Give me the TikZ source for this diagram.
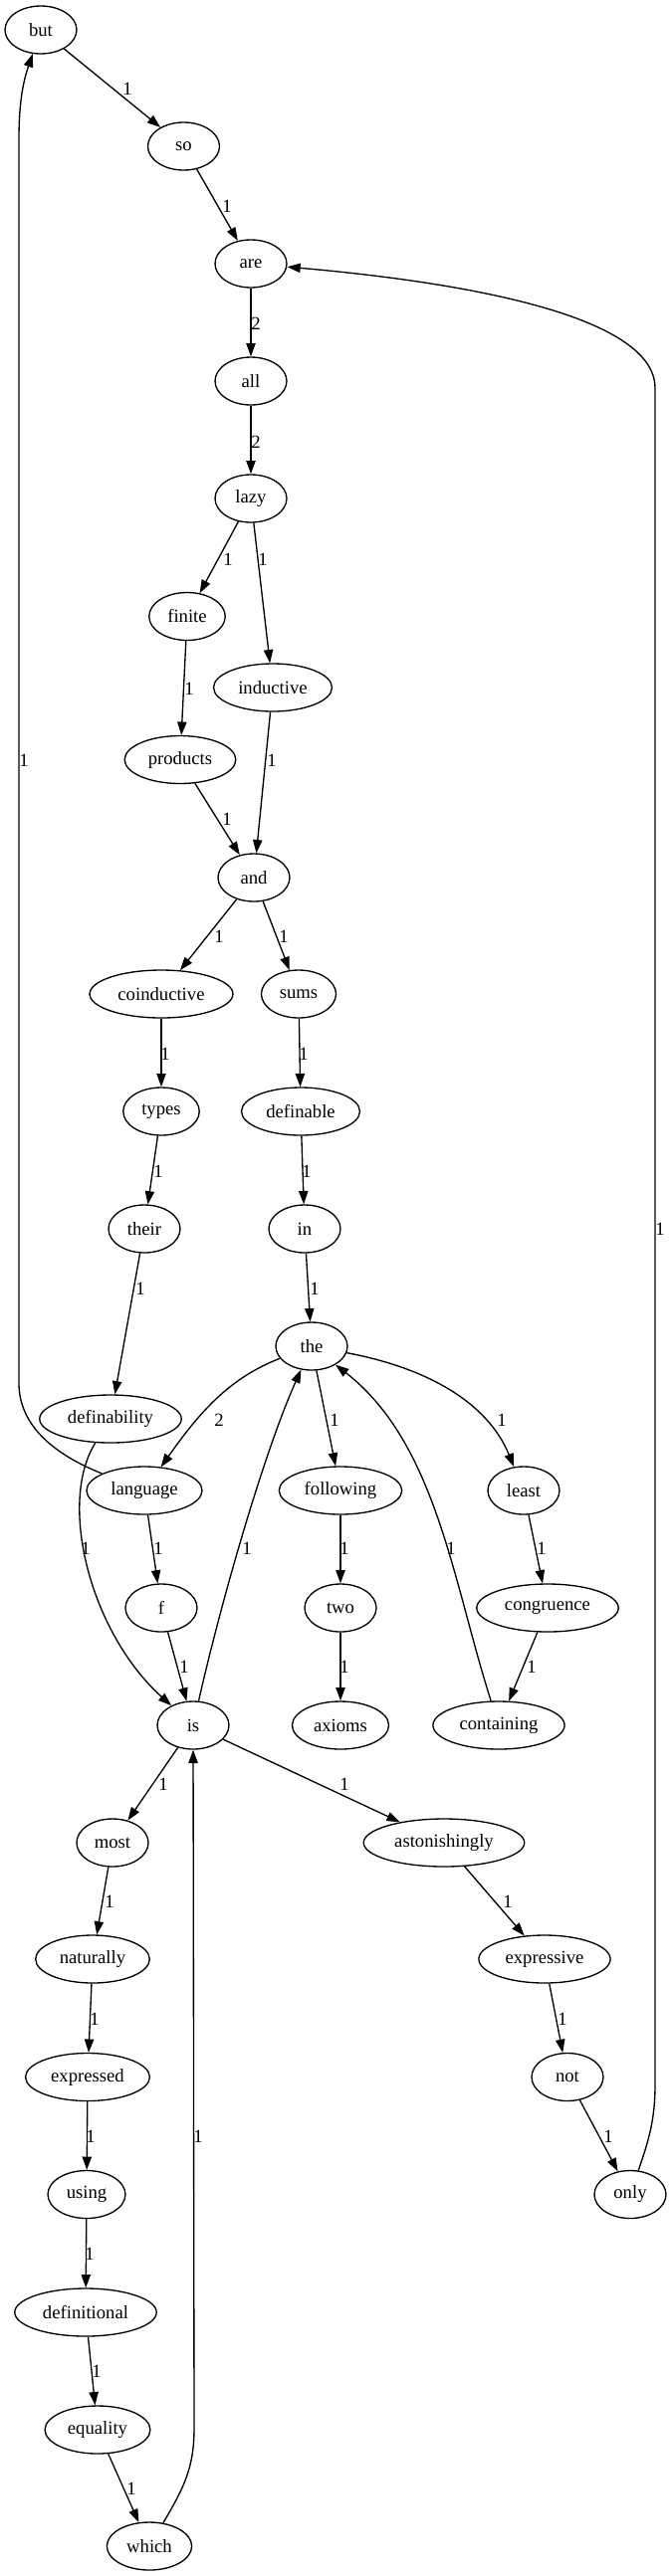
\documentclass[tikz,border=0pt]{standalone}
\usepackage{fontspec}
\setmainfont{Liberation Serif}
\usepackage{tikz}
\usetikzlibrary{arrows.meta,shapes.geometric}

\begin{document}
\begin{tikzpicture}[
  x=0.75pt, y=-0.75pt,
  font=\fontsize{14pt}{16pt}\selectfont,
  word/.style={draw, ellipse, line width=1pt, inner xsep=5.5pt, inner ysep=2pt, minimum width=54pt, minimum height=36pt},
  lab/.style={inner sep=0pt},
  arr/.style={-{Triangle[length=10pt, width=7pt]}, line width=1pt}
]
\useasboundingbox (0,0) rectangle (674,2589);
% words
\node[word] (but) at (41,30) {but};
\node[word] (so) at (184.5,147) {so};
\node[word] (are) at (252,265) {are};
\node[word] (all) at (252,383) {all};
\node[word] (lazy) at (252,501) {lazy};
\node[word] (finite) at (188,619.5) {finite};
\node[word] (inductive) at (274,691) {inductive};
\node[word] (products) at (181,763.5) {products};
\node[word] (and) at (255,882) {and};
\node[word] (coinductive) at (162,999) {coinductive};
\node[word] (sums) at (300,999) {sums};
\node[word] (types) at (162,1117) {types};
\node[word] (definable) at (302,1117) {definable};
\node[word] (their) at (145,1235) {their};
\node[word] (in) at (306,1235) {in};
\node[word] (the) at (313,1353) {the};
\node[word] (definability) at (111,1426) {definability};
\node[word] (language) at (145,1498) {language};
\node[word] (following) at (342,1498) {following};
\node[word] (least) at (526,1498) {least};
\node[word] (f) at (162,1616) {f};
\node[word] (two) at (342,1616) {two};
\node[word] (congruence) at (550,1616) {congruence};
\node[word] (is) at (194,1734) {is};
\node[word] (axioms) at (342,1734) {axioms};
\node[word] (containing) at (501,1734) {containing};
\node[word] (most) at (113,1852) {most};
\node[word] (astonishingly) at (446,1852) {astonishingly};
\node[word] (naturally) at (93,1969) {naturally};
\node[word] (expressive) at (547,1969) {expressive};
\node[word] (expressed) at (88,2087.5) {expressed};
\node[word] (not) at (570,2087.5) {not};
\node[word] (using) at (87,2205.5) {using};
\node[word] (only) at (633,2205.5) {only};
\node[word] (definitional) at (86,2324) {definitional};
\node[word] (equality) at (98,2442) {equality};
\node[word] (which) at (150,2559) {which};
% edges
\draw[arr] (but) -- (so) node[lab] (lbutso) at (128,89) {1};
\draw[arr] (so) -- (are) node[lab] (lsoare) at (228,207) {1};
\draw[arr] (are) -- (all) node[lab] (lareall) at (257,325) {2};
\draw[arr] (all) -- (lazy) node[lab] (lalllazy) at (257,444) {2};
\draw[arr] (lazy) -- (finite) node[lab] (llazyfin) at (229,562) {1};
\draw[arr] (lazy) -- (inductive) node[lab] (llazyind) at (264,562) {1};
\draw[arr] (finite) -- (products) node[lab] (lfinprod) at (190,692) {1};
\draw[arr] (inductive) -- (and) node[lab] (lindand) at (273,764) {1};
\draw[arr] (products) -- (and) node[lab] (lprodand) at (228,823) {1};
\draw[arr] (and) -- (coinductive) node[lab] (landcoind) at (220,941) {1};
\draw[arr] (and) -- (sums) node[lab] (landsums) at (285,941) {1};
\draw[arr] (coinductive) -- (types) node[lab] (lcoindtyp) at (166,1059) {1};
\draw[arr] (sums) -- (definable) node[lab] (lsumsdef) at (305,1059) {1};
\draw[arr] (types) -- (their) node[lab] (ltyptheir) at (159,1177) {1};
\draw[arr] (definable) -- (in) node[lab] (ldefin) at (308,1177) {1};
\draw[arr] (their) -- (definability) node[lab] (ltheirdef) at (141,1295) {1};
\draw[arr] (in) -- (the) node[lab] (linthe) at (316,1295) {1};
\draw[arr] (the) .. controls (230,1385) and (200,1420) .. (language) node[lab] (lthelang) at (220,1427) {2};
\draw[arr] (the) -- (following) node[lab] (lthefol) at (336,1427) {1};
\draw[arr] (the) .. controls (430,1375) and (490,1410) .. (least) node[lab] (ltheleast) at (504,1427) {1};
\draw[arr] (definability) .. controls (58,1510) and (90,1640) .. (is) node[lab] (ldefis) at (86,1556) {1};
\draw[arr] (language) -- (f) node[lab] (llangf) at (159,1556) {1};
\draw[arr] (is) .. controls (222,1610) and (265,1460) .. (the) node[lab] (listhe) at (248,1556) {1};
\draw[arr] (following) -- (two) node[lab] (lfoltwo) at (346,1556) {1};
\draw[arr] (containing) .. controls (455,1590) and (438,1450) .. (the) node[lab] (lconthe) at (453,1556) {1};
\draw[arr] (least) -- (congruence) node[lab] (lleastcong) at (544,1556) {1};
\draw[arr] (f) -- (is) node[lab] (lfis) at (185,1675) {1};
\draw[arr] (two) -- (axioms) node[lab] (ltwoax) at (346,1675) {1};
\draw[arr] (congruence) -- (containing) node[lab] (lcongcont) at (534,1675) {1};
\draw[arr] (is) -- (most) node[lab] (lismost) at (164,1793) {1};
\draw[arr] (is) -- (astonishingly) node[lab] (lisast) at (346,1793) {1};
\draw[arr] (most) -- (naturally) node[lab] (lmostnat) at (110,1911) {1};
\draw[arr] (astonishingly) -- (expressive) node[lab] (lastexp) at (510,1911) {1};
\draw[arr] (naturally) -- (expressed) node[lab] (lnatexp) at (95,2029) {1};
\draw[arr] (expressive) -- (not) node[lab] (lexpnot) at (565,2029) {1};
\draw[arr] (expressed) -- (using) node[lab] (lexpusing) at (91,2147) {1};
\draw[arr] (not) -- (only) node[lab] (lnotonly) at (611,2147) {1};
\draw[arr] (using) -- (definitional) node[lab] (lusingdef) at (90,2265) {1};
\draw[arr] (definitional) -- (equality) node[lab] (ldefeq) at (97,2383) {1};
\draw[arr] (equality) -- (which) node[lab] (leqwhich) at (132,2501) {1};
\draw[arr] (which) .. controls (185,2500) and (195,2480) .. (195,2440) -- (is) node[lab] (lwhichis) at (199,2147) {1};
\draw[arr] (language) .. controls (50,1460) and (19,1430) .. (19,1390) -- (19,140) .. controls (19,100) and (24,80) .. (but) node[lab] (llangbut) at (24,764) {1};
\draw[arr] (only) .. controls (652,2150) and (658,2130) .. (658,2095) -- (658,390) .. controls (658,320) and (480,285) .. (are) node[lab] (lonlyare) at (663,1235) {1};
\end{tikzpicture}
\end{document}
